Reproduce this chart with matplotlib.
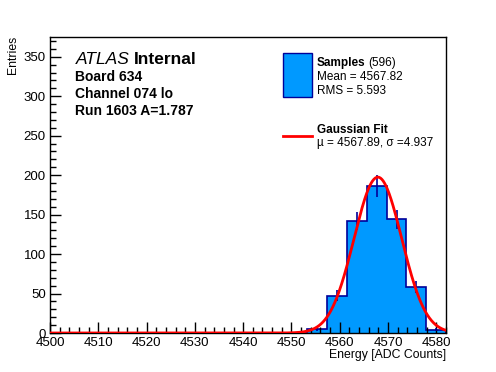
import numpy as np
import matplotlib.pyplot as plt
from matplotlib.ticker import MultipleLocator
from matplotlib.patches import Rectangle
from matplotlib.lines import Line2D

plt.rcParams['font.family'] = ['Liberation Sans', 'DejaVu Sans']

# histogram: 20 bins over 4500..4582
x_lo, x_hi, n_bins = 4500, 4582, 20
counts = [0, 0, 0, 0, 0, 0, 0, 0, 0, 0, 0, 0, 0, 5, 47, 142, 186, 144, 58, 4]
n_entries = 596
mean, rms = 4567.82, 5.593
fit_mu, fit_sigma = 4567.89, 4.937

edges = np.linspace(x_lo, x_hi, n_bins + 1)
counts = np.array(counts)
bw = edges[1] - edges[0]
centers = 0.5 * (edges[:-1] + edges[1:])

W, H = 496, 372
fig = plt.figure(figsize=(W / 100, H / 100), dpi=100)
ax = fig.add_axes([50 / W, 1 - 333 / H, 396 / W, 296 / H])

fill_c = '#0099ff'
edge_c = '#000099'
ax.stairs(counts, edges, fill=True, facecolor=fill_c, edgecolor='none')
ax.stairs(counts, edges, baseline=0, color=edge_c, lw=1.2)
nz = counts > 0
ax.errorbar(centers[nz], counts[nz], yerr=np.sqrt(counts[nz]), fmt='none',
            ecolor=edge_c, elinewidth=1.2, capsize=0)

# gaussian fit
amp = n_entries * bw / (np.sqrt(2 * np.pi) * fit_sigma)
xs = np.linspace(x_lo, x_hi, 600)
ax.plot(xs, amp * np.exp(-0.5 * ((xs - fit_mu) / fit_sigma) ** 2), color='red', lw=2, zorder=5)

ax.set_xlim(x_lo, x_hi)
ax.set_ylim(0, 375)
ax.xaxis.set_major_locator(MultipleLocator(10))
ax.xaxis.set_minor_locator(MultipleLocator(2))
ax.yaxis.set_major_locator(MultipleLocator(50))
ax.yaxis.set_minor_locator(MultipleLocator(10))
ax.tick_params(which='major', direction='in', length=8, width=1, labelsize=9.5, pad=3)
ax.tick_params(which='minor', direction='in', length=4, width=1)
for s in ax.spines.values():
    s.set_linewidth(1)

fig.text(446 / W, 1 - 358 / H, 'Energy [ADC Counts]', ha='right', va='baseline', fontsize=8.8)
fig.text(13 / W, 1 - 36 / H, 'Entries', ha='center', va='top', rotation=90, fontsize=8.8)

renderer = fig.canvas.get_renderer()

def ftext(px, py, s, **kw):
    return fig.text(px / W, 1 - py / H, s, va='baseline', **kw)

def after(t, gap, py, s, **kw):
    # place a text right after another one
    bb = t.get_window_extent(renderer)
    return fig.text((bb.x1 + gap) / W, 1 - py / H, s, va='baseline', **kw)

t = ftext(76, 64, 'ATLAS', fontsize=12.5, style='italic')
after(t, 4, 64, 'Internal', fontsize=12.5, weight='bold')
ftext(75, 81, 'Board 634', fontsize=10, weight='bold')
ftext(75, 98, 'Channel 074 lo', fontsize=10, weight='bold')
ftext(75, 115, 'Run 1603 A=1.787', fontsize=10, weight='bold')

# legend
fig.patches.append(Rectangle((283 / W, 1 - 97 / H), 29 / W, 44 / H, transform=fig.transFigure,
                             facecolor=fill_c, edgecolor=edge_c, lw=1))
t = ftext(317, 66, 'Samples', fontsize=8.5, weight='bold')
after(t, 3, 66, '(%d)' % n_entries, fontsize=8.5)
ftext(317, 80, 'Mean = %.2f' % mean, fontsize=8.5)
ftext(317, 94, 'RMS = %.3f' % rms, fontsize=8.5)
fig.lines.append(Line2D([283 / W, 312 / W], [1 - 135.5 / H] * 2, transform=fig.transFigure,
                        color='red', lw=2))
ftext(317, 133, 'Gaussian Fit', fontsize=8.5, weight='bold')
ftext(317, 146, '\u00b5 = %.2f, \u03c3 =%.3f' % (fit_mu, fit_sigma), fontsize=8.5)

fig.savefig('out.png', dpi=100)
